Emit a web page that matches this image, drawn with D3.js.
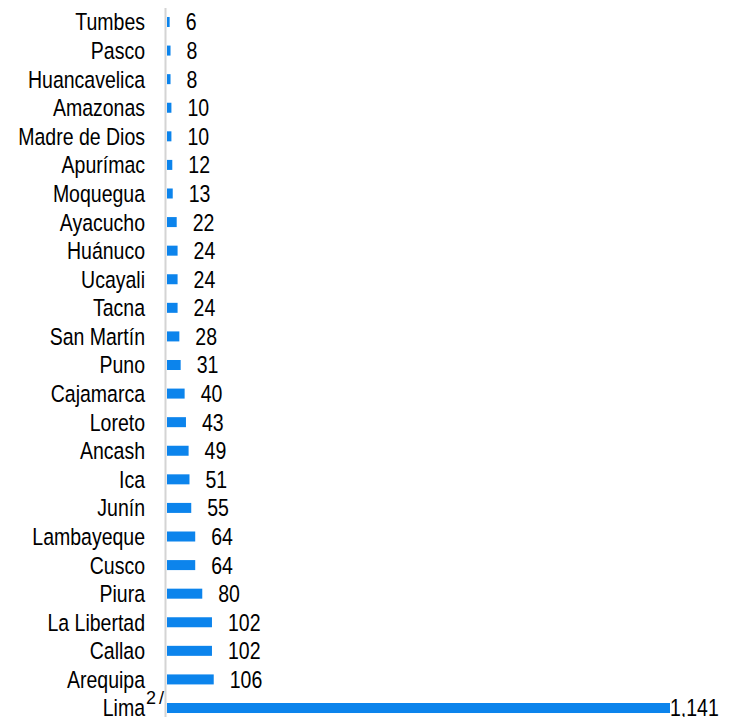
<!DOCTYPE html>
<html>
<head>
<meta charset="utf-8">
<script src="https://cdn.jsdelivr.net/npm/d3@7"></script>
<style>
  body { margin: 0; background: #fff; }
  text { font-family: "Liberation Sans", Arial, sans-serif; fill: #000; }
</style>
</head>
<body>
<div id="chart"><svg></svg></div>
<script>
// categories top to bottom
const regions = ['Tumbes', 'Pasco', 'Huancavelica', 'Amazonas', 'Madre de Dios', 'Apurímac',
  'Moquegua', 'Ayacucho', 'Huánuco', 'Ucayali', 'Tacna', 'San Martín', 'Puno', 'Cajamarca',
  'Loreto', 'Ancash', 'Ica', 'Junín', 'Lambayeque', 'Cusco', 'Piura', 'La Libertad', 'Callao',
  'Arequipa', 'Lima'];
const counts = [6, 8, 8, 10, 10, 12, 13, 22, 24, 24, 24, 28, 31, 40, 43, 49, 51, 55, 64, 64, 80,
  102, 102, 106, 1141];
const footnotes = {Lima: '2/'};

const data = regions.map((r, i) => ({region: r, value: counts[i]}));

const width = 730, height = 717;
const narrow = 0.83; // the original font is a narrow sans, squeeze Liberation Sans to match

const svg = d3.select('#chart').select('svg')
    .attr('width', width)
    .attr('height', height);

const xScale = d3.scaleLinear()
    .domain([0, 1141])
    .range([167, 670]);

const yScale = d3.scaleBand()
    .domain(regions)
    .range([7.7, 722.3])
    .paddingInner(0.65)
    .paddingOuter(0.325);

const fmt = d3.format(',');
const rowMid = d => yScale(d.region) + yScale.bandwidth() / 2;

// bars
svg.selectAll('rect.bar')
    .data(data)
  .enter().append('rect')
    .attr('class', 'bar')
    .attr('x', xScale(0))
    .attr('y', d => yScale(d.region))
    .attr('width', d => xScale(d.value) - xScale(0))
    .attr('height', yScale.bandwidth())
    .attr('fill', '#0c84ec');

// vertical axis line
svg.append('line')
    .attr('x1', 165.5)
    .attr('x2', 165.5)
    .attr('y1', 8)
    .attr('y2', height)
    .attr('stroke', '#d4d4d4')
    .attr('stroke-width', 2);

// category labels
svg.selectAll('text.cat')
    .data(data)
  .enter().append('text')
    .attr('class', 'cat')
    .attr('transform', d => `translate(145,${rowMid(d)}) scale(${narrow},1)`)
    .attr('dy', '0.36em')
    .attr('text-anchor', 'end')
    .style('font-size', '23.5px')
    .text(d => d.region);

// footnote marks
svg.selectAll('text.note')
    .data(data.filter(d => footnotes[d.region]))
  .enter().append('text')
    .attr('class', 'note')
    .attr('x', 146)
    .attr('y', d => rowMid(d) - 4)
    .attr('text-anchor', 'start')
    .style('font-size', '18px')
    .style('letter-spacing', '3px')
    .text(d => footnotes[d.region]);

// value labels (the big Lima label sits right at the bar end)
svg.selectAll('text.val')
    .data(data)
  .enter().append('text')
    .attr('class', 'val')
    .attr('transform', d => `translate(${xScale(d.value) + (d.value > 1000 ? 0 : 16)},${rowMid(d)}) scale(${narrow},1)`)
    .attr('dy', '0.36em')
    .attr('text-anchor', 'start')
    .style('font-size', '23.5px')
    .text(d => fmt(d.value));
</script>
</body>
</html>
